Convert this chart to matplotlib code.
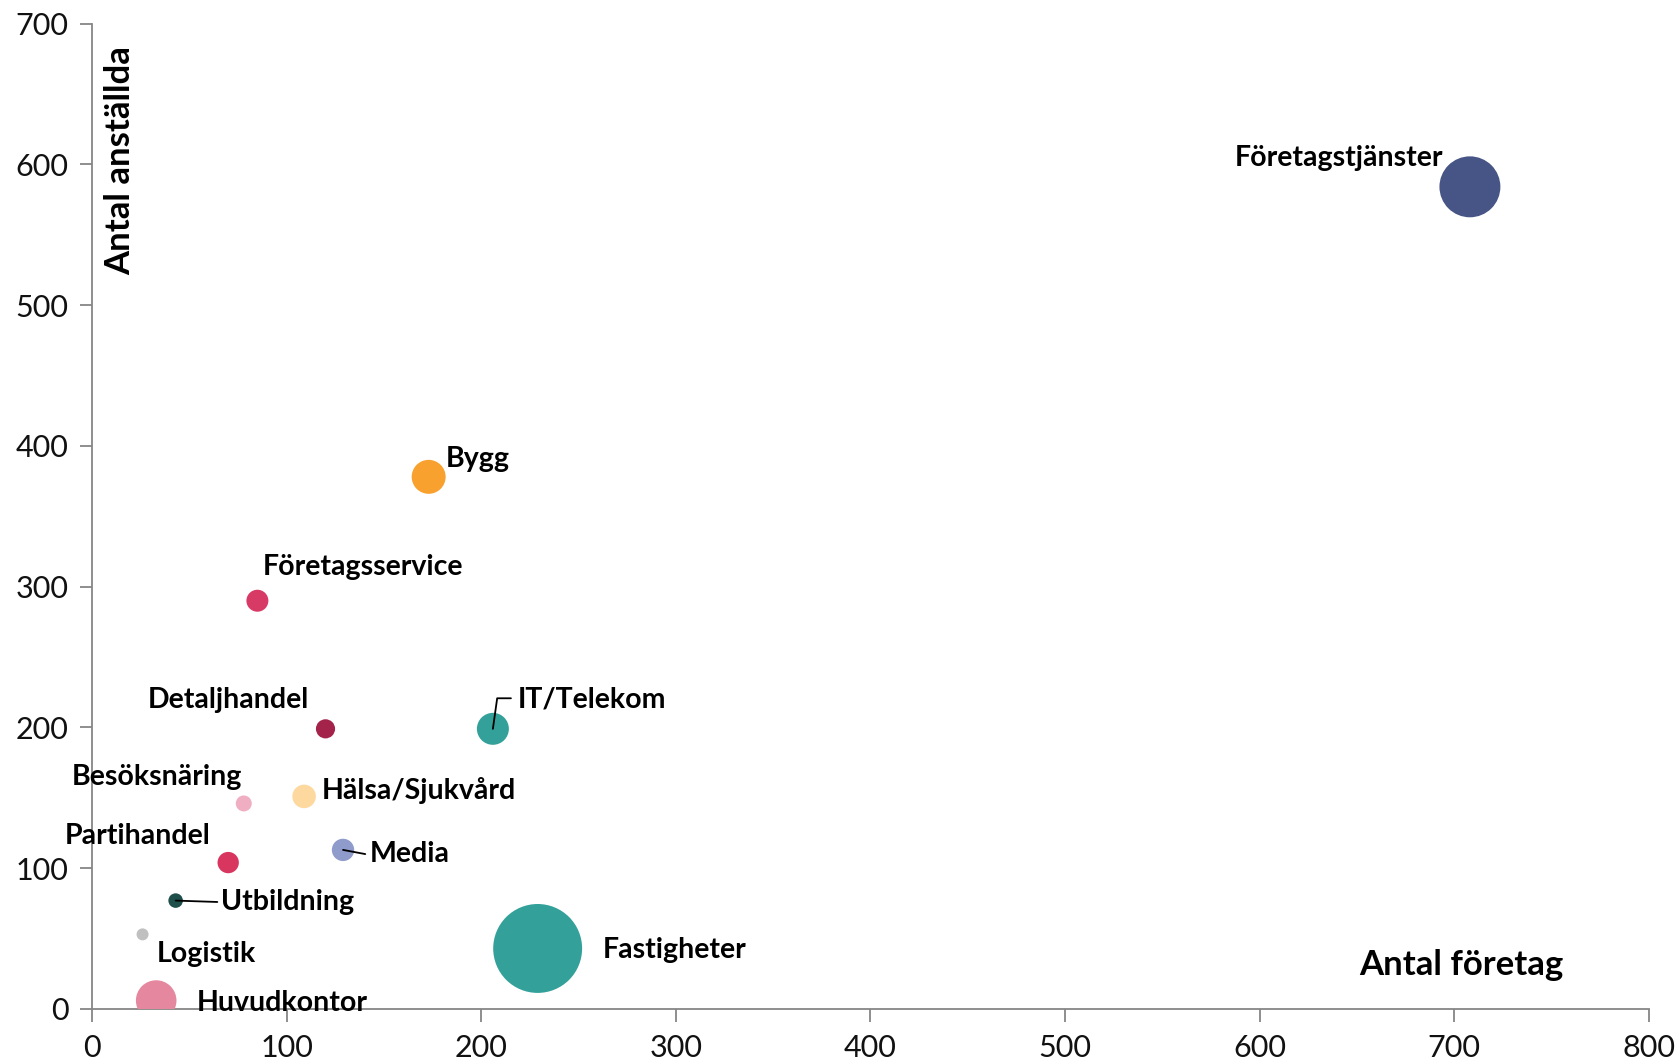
import matplotlib
matplotlib.use("Agg")
import matplotlib.pyplot as plt

branscher = ["Företagstjänster", "Bygg", "Företagsservice", "Detaljhandel", "IT/Telekom",
             "Besöksnäring", "Hälsa/Sjukvård", "Media", "Partihandel", "Utbildning",
             "Logistik", "Huvudkontor", "Fastigheter"]
antal_foretag = [708, 173, 85, 120, 206, 78, 109, 129, 70, 43, 26, 33, 229]
antal_anstallda = [584, 378, 290, 199, 199, 146, 151, 113, 104, 77, 53, 6, 43]
bubbelstorlek = [930, 289, 121, 92, 256, 64, 139, 125, 114, 53, 36, 412, 1980]
farger = ["#465486", "#F9A12E", "#D83A66", "#A4234A", "#33A19A",
          "#F0AEC3", "#FDD9A0", "#8E9BCB", "#D8365F", "#1F4F4A",
          "#C0C0C0", "#E5879F", "#33A19A"]

x_ticks = [0, 100, 200, 300, 400, 500, 600, 700, 800]
y_ticks = [0, 100, 200, 300, 400, 500, 600, 700]

# label offsets in points: (dx, dy, ha, leader)
label_style = {
    "Företagstjänster": (-19, 21, "right", False),
    "Bygg": (12, 13, "left", False),
    "Företagsservice": (4, 24, "left", False),
    "Detaljhandel": (-12, 21, "right", False),
    "IT/Telekom": (18, 21, "left", True),
    "Besöksnäring": (-1, 19, "right", False),
    "Hälsa/Sjukvård": (13, 4, "left", False),
    "Media": (19, -3, "left", True),
    "Partihandel": (-13, 19, "right", False),
    "Utbildning": (33, -1, "left", True),
    "Logistik": (10, -14, "left", False),
    "Huvudkontor": (29, -2, "left", False),
    "Fastigheter": (47, -1, "left", False),
}

plt.rcParams['font.family'] = ['Lato', 'DejaVu Sans']

fig = plt.figure(figsize=(16.78, 10.64), dpi=100)
ax = fig.add_axes([0.0548, 0.0517, 0.9279, 0.9262])

sizes = [v * 2.07 for v in bubbelstorlek]
ax.scatter(antal_foretag, antal_anstallda, s=sizes, c=farger, linewidths=0, zorder=3)

for name, xv, yv in zip(branscher, antal_foretag, antal_anstallda):
    dx, dy, ha, leader = label_style[name]
    ax.annotate(name, (xv, yv), xytext=(dx, dy), textcoords="offset points",
                ha=ha, va="center", fontsize=20.5, fontweight="bold", color="black", zorder=4)
    if leader:
        if name == "IT/Telekom":
            ax.annotate("", (xv, yv), xytext=(13, 22), textcoords="offset points",
                        arrowprops=dict(arrowstyle="-", color="black", lw=1.3,
                                        connectionstyle="angle,angleA=0,angleB=82,rad=0",
                                        shrinkA=0, shrinkB=0), zorder=4)
        else:
            ax.annotate("", (xv, yv), xytext=(dx - 3, dy), textcoords="offset points",
                        arrowprops=dict(arrowstyle="-", color="black", lw=1.3,
                                        shrinkA=0, shrinkB=0), zorder=4)

ax.set_xlim(0, 800)
ax.set_ylim(0, 700)
ax.set_xticks(x_ticks)
ax.set_yticks(y_ticks)
ax.tick_params(axis="both", labelsize=22, length=9, width=1.3, color="#868686",
               labelcolor="#111111")
ax.tick_params(axis="y", pad=8)
ax.tick_params(axis="x", pad=9)
for side in ["top", "right"]:
    ax.spines[side].set_visible(False)
for side in ["left", "bottom"]:
    ax.spines[side].set_color("#868686")
    ax.spines[side].set_linewidth(1.3)

ax.text(0.018, 0.977, "Antal anställda", transform=ax.transAxes, rotation=90,
        ha="center", va="top", fontsize=25, fontweight="bold")
ax.text(0.945, 0.045, "Antal företag", transform=ax.transAxes,
        ha="right", va="center", fontsize=25, fontweight="bold")

fig.savefig("out.png", dpi=100)
